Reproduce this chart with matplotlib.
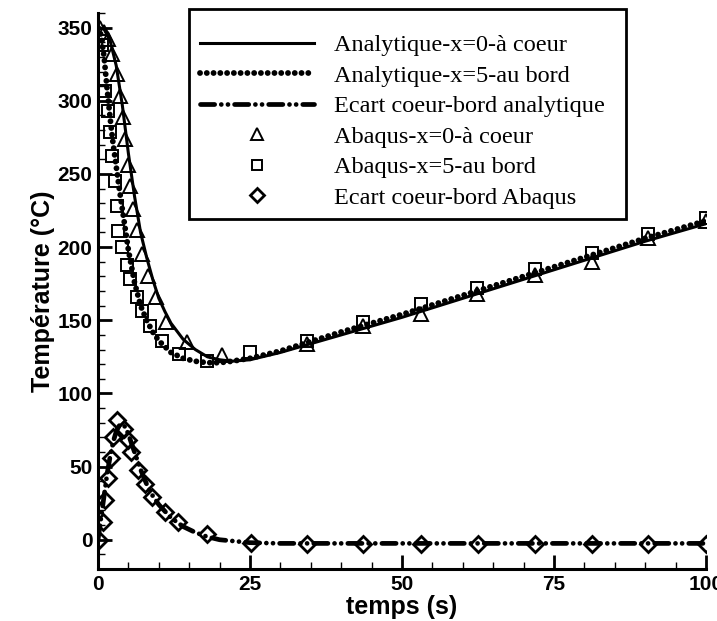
import numpy as np
import matplotlib
matplotlib.use('Agg')
import matplotlib.pyplot as plt
from matplotlib.patches import Rectangle

# Courbes analytiques
t_coeur = [0, 1, 2, 3, 4, 5, 6, 7, 8, 9, 10, 11, 12, 14, 16, 18, 20, 22, 25,
           30, 40, 50, 60, 70, 80, 90, 100]
T_coeur = [350, 349, 341, 324, 297, 264, 235, 210, 193, 178, 165, 156, 148, 137, 130, 125, 123, 122, 123,
           128, 140, 152, 165, 178, 191, 204, 216]

t_bord = [0, 0.5, 1, 1.5, 2, 2.5, 3, 3.5, 4, 5, 6, 7, 8, 9, 10, 12, 14, 16, 18, 20, 22, 25,
          30, 40, 50, 60, 70, 80, 90, 100]
T_bord = [350, 345, 330, 308, 288, 270, 255, 240, 226, 198, 176, 160, 150, 142, 136, 128, 124, 122, 121, 121, 122, 124,
          129, 142, 154, 167, 180, 193, 206, 218]

t_ecart = [0, 0.5, 1, 1.5, 2, 2.5, 3, 3.5, 4, 4.5, 5, 6, 7, 8, 9, 10, 12, 14, 16, 18, 20, 25, 30, 100]
T_ecart = [0, 15, 30, 45, 57, 67, 74, 78, 79, 77, 72, 60, 48, 38, 30, 24, 15, 9, 5, 2, 0, -2, -2.5, -2.5]

# Points Abaqus
t_tri = [0.3, 1.0, 1.6, 2.3, 3.1, 3.6, 4.1, 4.4, 4.9, 5.3, 5.8, 6.4, 7.2, 8.2, 9.5, 11.2, 14.6, 20.4,
         34.4, 43.6, 53.1, 62.3, 71.9, 81.2, 90.5, 100]
T_tri = [350, 347, 342, 332, 318, 303, 289, 274, 256, 242, 226, 212, 195, 180, 166, 149, 135, 126,
         134, 146, 154, 168, 181, 190, 206, 218]

t_sq = [0.6, 1.2, 1.7, 2.0, 2.3, 2.8, 3.1, 3.3, 3.9, 4.7, 5.3, 6.4, 7.2, 8.6, 10.5, 13.3, 17.9, 25.0,
        34.4, 43.6, 53.1, 62.3, 71.9, 81.2, 90.5, 100]
T_sq = [338, 307, 293, 279, 262, 245, 228, 211, 200, 188, 178, 166, 156, 146, 136, 127, 122, 128,
        136, 149, 161, 172, 185, 196, 209, 220]

t_dia = [0.2, 0.8, 1.2, 1.7, 2.1, 2.5, 3.1, 4.2, 5.0, 5.4, 6.6, 7.7, 8.9, 11.0, 13.2, 17.9, 25.2,
         34.4, 43.6, 53.1, 62.5, 71.9, 81.2, 90.5, 100]
T_dia = [0, 12, 27, 42, 56, 70, 82, 76, 68, 60, 48, 38, 29, 19, 12, 4, -2,
         -3, -3, -3, -3, -3, -3, -3, -3]

fig = plt.figure(figsize=(7.17, 6.21), dpi=100)
ax = fig.add_axes([98/717, 1-569/621, 608/717, 556/621])

ax.plot(t_coeur, T_coeur, 'k-', linewidth=2.2, label='Analytique-x=0-à coeur')
ax.plot(t_bord, T_bord, color='k', linewidth=4.2, linestyle=(0, (0.01, 1.15)),
        dash_capstyle='round', label='Analytique-x=5-au bord')
ax.plot(t_ecart, T_ecart, color='k', linewidth=3.4, linestyle=(0, (3.0, 1.4, 0.01, 1.4, 0.01, 1.4)),
        dash_capstyle='round', label='Ecart coeur-bord analytique')
ax.plot(t_tri, T_tri, linestyle='none', marker='^', markersize=10, markerfacecolor='none',
        markeredgecolor='k', markeredgewidth=1.4, label='Abaqus-x=0-à coeur')
ax.plot(t_sq, T_sq, linestyle='none', marker='s', markersize=9, markerfacecolor='none',
        markeredgecolor='k', markeredgewidth=1.4, label='Abaqus-x=5-au bord')
ax.plot(t_dia, T_dia, linestyle='none', marker='D', markersize=8, markerfacecolor='none',
        markeredgecolor='k', markeredgewidth=2, label='Ecart coeur-bord Abaqus')

ax.set_xlim(0, 100)
ax.set_ylim(-20, 360)
ax.set_xticks([0, 25, 50, 75, 100])
ax.set_xticks(np.arange(0, 101, 5), minor=True)
ax.set_yticks(np.arange(0, 351, 50))
ax.set_yticks(np.arange(-10, 361, 10), minor=True)

for s in ['top', 'right']:
    ax.spines[s].set_visible(False)
for s in ['left', 'bottom']:
    ax.spines[s].set_linewidth(2.2)

ax.tick_params(which='major', direction='in', length=10, width=2, pad=4)
ax.tick_params(which='minor', direction='in', length=5, width=1)
for lab in ax.get_xticklabels() + ax.get_yticklabels():
    lab.set_fontfamily('Liberation Sans')
    lab.set_fontweight('bold')
    lab.set_fontsize(15)

ax.set_xlabel('temps (s)', fontfamily='Liberation Sans', fontweight='bold', fontsize=18, labelpad=1)
ax.set_ylabel('Température (°C)', fontfamily='Liberation Sans', fontweight='bold', fontsize=18, labelpad=2)

# cadre de la légende (dessiné sous la légende)
cadre = Rectangle((189/717, 1-219/621), 437/717, 210/621, transform=fig.transFigure,
                  facecolor='white', edgecolor='black', linewidth=2, zorder=4.5, clip_on=False)
ax.add_artist(cadre)

leg = ax.legend(loc='upper left', bbox_to_anchor=(200/717, 1-34/621), bbox_transform=fig.transFigure,
                prop={'family': 'Liberation Serif', 'size': 17.5}, frameon=False,
                handlelength=4.7, handletextpad=0.8, borderpad=0, labelspacing=0.35,
                markerscale=0.85, borderaxespad=0)
leg.set_zorder(6)

fig.savefig('out.png', dpi=100)
